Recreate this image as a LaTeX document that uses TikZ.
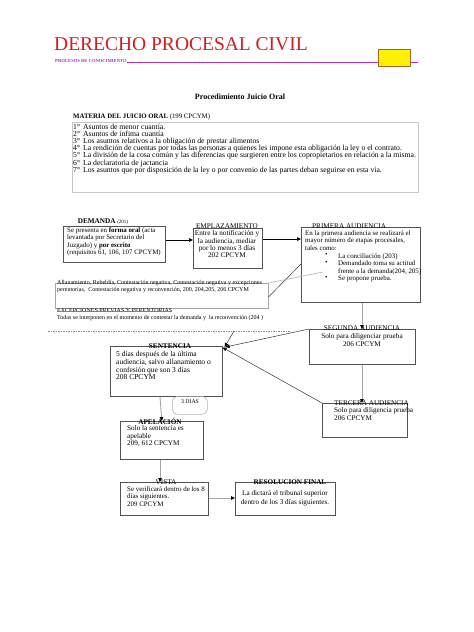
\documentclass[tikz,border=0pt]{standalone}
\usepackage{fontspec}
\setmainfont{Liberation Serif}
\usetikzlibrary{arrows.meta}
\newcommand\bxf{\fontsize{7.2}{7.4}\selectfont}
\newcommand\bxs{\fontsize{6.9}{7.4}\selectfont}
\newcommand\bxl{\fontsize{7.5}{7.6}\selectfont}
\newcommand\smf{\fontsize{6.0}{6.4}\selectfont}
\newcommand\lsf{\fontsize{7.7}{7.2}\selectfont}
\definecolor{titred}{RGB}{210,30,35}
\definecolor{procmag}{RGB}{170,50,190}
\definecolor{ybord}{RGB}{170,100,40}
\begin{document}
\begin{tikzpicture}[x=1pt,y=-1pt,
  box/.style={draw=black!68, line width=0.6pt, inner sep=0pt, anchor=north west},
  txt/.style={inner sep=0pt, anchor=north west, align=left, font=\bxf},
  ctxt/.style={inner sep=0pt, anchor=north, align=center, font=\bxf},
  ttl/.style={inner sep=0pt, font=\bxf},
  arr/.style={draw=black, line width=0.5pt, -{Triangle[length=4pt,width=3.6pt]}},
  garr/.style={draw=black!35, line width=0.9pt, -{Triangle[length=4pt,width=3.6pt,color=black]}},
  conn/.style={draw=black!80, line width=0.5pt, -{Triangle[length=4pt,width=3.6pt,color=black]}},
]
\useasboundingbox (0,0) rectangle (474,632);
\fill[white] (0,0) rectangle (474,632);

% header
\node[inner sep=0pt, anchor=west, text=titred, font=\fontsize{19.5}{20}\selectfont] (title) at (54,44) {DERECHO PROCESAL CIVIL};
\node[inner sep=0pt, anchor=west, text=procmag, font=\bfseries\fontsize{4.6}{5}\selectfont] (proc) at (55,61) {PROCESOS DE CONOCIMIENTO};
\coordinate (lineend) at (418,62);
\draw[procmag, line width=0.5pt] (proc.south east) -- (proc.south east -| lineend);
\node[draw=ybord, fill=yellow, line width=0.8pt, minimum width=32pt, minimum height=17pt, inner sep=0pt, anchor=north west] (ybox) at (378,49) {};

\node[inner sep=0pt, font=\bfseries\fontsize{8}{9}\selectfont] (proced) at (240,97) {Procedimiento Juicio Oral};

% materia
\node[draw=black!22, line width=0.6pt, minimum width=346pt, minimum height=70pt, inner sep=0pt, anchor=north west] (mat) at (72,122) {};
\node[inner sep=0pt, anchor=west, font=\fontsize{6.8}{7}\selectfont] (mathead) at (73,117) {\textbf{MATERIA DEL JUICIO ORAL} (199 CPCYM)};
\node[inner sep=0pt, anchor=north west, align=left, font=\lsf] (matlist) at (73,123.5) {%
1°\hspace{3pt}Asuntos de menor cuantía.\\
2°\hspace{3pt}Asuntos de ínfima cuantía\\
3°\hspace{3pt}Los asuntos relativos a la obligación de prestar alimentos\\
4°\hspace{3pt}La rendición de cuentas por todas las personas a quienes les impone esta obligación la ley o el contrato.\\
5°\hspace{3pt}La división de la cosa común y las diferencias que surgieren entre los copropietarios en relación a la misma.\\
6°\hspace{3pt}La declaratoria de jactancia\\
7°\hspace{3pt}Los asuntos que por disposición de la ley o por convenio de las partes deban seguirse en esta vía.};

% demanda
\node[box, minimum width=102pt, minimum height=36pt] (dem) at (63,226) {};
\node[ttl] (demt) at (103,222) {\textbf{DEMANDA} {\fontsize{5}{5}\selectfont(201)}};
\node[txt, font=\bxs] (demx) at (67,227.5) {Se presenta en \textbf{forma oral} (acta\\levantada por Secretario del\\Juzgado) y \textbf{por escrito}\\(requisitos 61, 106, 107 CPCYM)};

% emplazamiento
\node[box, minimum width=69pt, minimum height=40pt] (emp) at (193,228) {};
\node[ttl] (empt) at (227,226) {EMPLAZAMIENTO};
\node[ctxt] (empx) at (227,230.5) {Entre la notificación y\\la audiencia, mediar\\por lo menos 3 días\\202 CPCYM};

% primera audiencia
\node[box, minimum width=119pt, minimum height=75pt] (pri) at (301,227) {};
\node[ttl, anchor=west] (prit) at (312,226) {PRIMERA AUDIENCIA};
\node[txt, font=\bxs] (prix) at (305,230.5) {En la primera audiencia se realizará el\\mayor número de etapas procesales,\\tales como:};
\node[txt, font=\bxs] (pribul) at (325,253.5) {•\\•\\[7.4pt]•};
\node[txt, font=\bxs] (prib) at (338,253.5) {La conciliación (203)\\Demandado toma su actitud\\frente a la demanda(204, 205)\\Se propone prueba.};

% segunda audiencia
\node[box, minimum width=106pt, minimum height=35pt] (seg) at (309,329) {};
\node[ttl] (segt) at (362,328) {SEGUNDA AUDIENCIA};
\node[ctxt] (segx) at (362,333.5) {Solo para diligenciar prueba\\206 CPCYM};

% tercera audiencia
\node[box, minimum width=85pt, minimum height=34pt] (ter) at (322,403) {};
\node[ttl, anchor=west] (tert) at (334,403) {TERCERA AUDIENCIA};
\node[txt] (terx) at (334,407.5) {Solo para diligencia prueba\\206 CPCYM};

% alternativas
\node[draw=black!35, line width=0.5pt, minimum width=213pt, minimum height=25pt, inner sep=0pt, anchor=north west] (alt) at (55,283) {};
\node[inner sep=0pt, anchor=north west, align=left, font=\smf] (altx) at (57,280.5) {Allanamiento, Rebeldía, Contestación negativa, Contestación negativa y excepciones\\perentorias,\ \ Contestación negativa y reconvención, 200, 204,205, 206 CPCYM};
\node[inner sep=0pt, anchor=west, font=\smf] (exct) at (57,311) {EXCEPCIONES PREVIAS Y PERENTORIAS};
\draw[black!50, line width=0.5pt] (exct.west) -- (exct.east);
\node[inner sep=0pt, anchor=west, font=\smf] (excx) at (57,318) {Todas se interponen en el momento de contestar la demanda y\ \ la reconvención (204 )};
\coordinate (dotl) at (48,331);
\coordinate (dotr) at (290,331);
\draw[black!45, line width=0.8pt, dash pattern=on 1.5pt off 1pt] (dotl) -- (dotr);

% sentencia
\node[box, minimum width=112pt, minimum height=50pt] (sen) at (110,346) {};
\node[ttl] (sent) at (170,346) {\textbf{SENTENCIA}};
\node[txt, font=\bxl] (senx) at (116,351.5) {5 días después de la última\\audiencia, salvo allanamiento o\\confesión que son 3 días\\208 CPCYM};

% 3 dias
\node[draw=black!30, line width=0.6pt, rounded corners=5pt, minimum width=35pt, minimum height=18pt, inner sep=0pt, anchor=north west] (tres) at (172,396) {};
\node[inner sep=0pt, font=\fontsize{5.8}{6}\selectfont] (trest) at (190,402) {3 DIAS};

% apelacion
\node[box, minimum width=83pt, minimum height=38pt] (ape) at (120,421) {};
\node[ttl] (apet) at (160,421) {\textbf{APELACIÓN}};
\node[txt] (apex) at (127,425.5) {Solo la sentencia es\\apelable\\209, 612 CPCYM};

% vista
\node[box, minimum width=88pt, minimum height=33pt] (vis) at (120,482) {};
\node[ttl] (vist) at (166,482) {VISTA};
\node[txt, font=\bxs] (visx) at (127,486.5) {Se verificará dentro de los 8\\días siguientes.\\209 CPCYM};

% resolucion final
\node[box, minimum width=100pt, minimum height=33pt] (res) at (235,482) {};
\node[ttl] (rest) at (290,482) {\textbf{RESOLUCION FINAL}};
\node[ctxt, font=\fontsize{7.2}{9}\selectfont] (resx) at (285,490.5) {La dictará el tribunal superior\\dentro de los 3 días siguientes.};

% connectors
\draw[arr] (dem.east |- 0,240) -- (emp.west |- 0,240);
\draw[arr] (emp.east |- 0,239) -- (pri.west |- 0,239);
\draw[garr] (pri.south -| 362,0) -- (seg.north -| 362,0);
\draw[garr] (seg.south -| 362,0) -- (ter.north -| 362,0);
\draw[garr] (sen.south -| 160,0) -- (ape.north);
\draw[garr] (ape.south -| 160,0) -- (vis.north -| 160,0);
\draw[garr] (vis.east |- 0,498) -- (res.west |- 0,498);

\draw[conn] (dotr -| 234,0) -- ([xshift=2pt,yshift=-1pt]sen.north east);
\draw[conn] (seg.north west) -- ([xshift=3pt,yshift=-1pt]sen.north east);
\draw[conn] (ter.north west) -- ([xshift=0pt,yshift=-1.5pt]sen.north east);

\draw[black!80, line width=0.5pt] (alt.east |- 0,297) -- (pri.west |- 0,264);
\draw[black!30, line width=0.6pt] (alt.north east) -- (323,272);
\end{tikzpicture}
\end{document}
